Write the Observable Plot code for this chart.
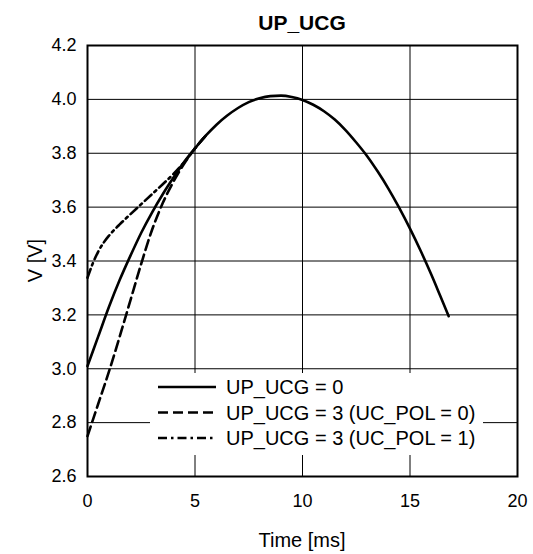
<!DOCTYPE html>
<html>
<head>
<meta charset="utf-8">
<script src="https://cdn.jsdelivr.net/npm/d3@7"></script>
<script src="https://cdn.jsdelivr.net/npm/@observablehq/plot@0.6"></script>
<style>
  html, body { margin: 0; padding: 0; background: #fff; }
  svg { display: block; }
</style>
</head>
<body>
<div id="chart"></div>
<script>
// ---- data ----
const title = "UP_UCG";
const xLabel = "Time [ms]";
const yLabel = "V [V]";
const xTicks = [0, 5, 10, 15, 20];
const yTicks = [2.6, 2.8, 3.0, 3.2, 3.4, 3.6, 3.8, 4.0, 4.2];
const seriesNames = ["UP_UCG = 0", "UP_UCG = 3 (UC_POL = 0)", "UP_UCG = 3 (UC_POL = 1)"];

// UP_UCG = 0 (solid)
const solidT = [0, 0.5, 1, 1.5, 2, 2.5, 3, 3.5, 4, 4.5, 5, 5.5, 6, 6.5, 7, 7.5, 8, 8.5, 9, 9.5, 10, 10.5, 11, 11.5, 12, 12.5, 13, 13.5, 14, 14.5, 15, 15.5, 16, 16.4, 16.8];
const solidV = [3.01, 3.12, 3.23, 3.33, 3.42, 3.505, 3.58, 3.648, 3.71, 3.768, 3.818, 3.865, 3.906, 3.94, 3.968, 3.99, 4.004, 4.012, 4.014, 4.009, 3.998, 3.98, 3.956, 3.925, 3.886, 3.84, 3.79, 3.732, 3.668, 3.597, 3.52, 3.437, 3.348, 3.272, 3.195];

// UP_UCG = 3 (UC_POL = 0) (dashed)
const dashT = [0, 0.5, 1, 1.5, 2, 2.5, 3, 3.5, 4, 4.5, 5, 5.5];
const dashV = [2.75, 2.87, 2.99, 3.12, 3.255, 3.39, 3.515, 3.615, 3.695, 3.762, 3.818, 3.865];

// UP_UCG = 3 (UC_POL = 1) (dash-dot)
const dotT = [0, 0.25, 0.5, 0.75, 1, 1.25, 1.5, 2, 2.5, 3, 3.5, 4, 4.5, 5, 5.5];
const dotV = [3.338, 3.392, 3.435, 3.468, 3.494, 3.516, 3.536, 3.574, 3.611, 3.648, 3.685, 3.723, 3.767, 3.818, 3.865];

const dashes = [null, "10,5", "9,4,2.5,4"];

const toRows = (ts, vs, s) => ts.map((t, i) => ({t, v: vs[i], s}));
const rows = [
  ...toRows(solidT, solidV, seriesNames[0]),
  ...toRows(dashT, dashV, seriesNames[1]),
  ...toRows(dotT, dotV, seriesNames[2])
];

const FONT = "'Liberation Sans', Arial, Helvetica, sans-serif";
const W = 533, H = 554;
const mL = 87, mR = 16, mT = 45, mB = 78;

const plot = Plot.plot({
  width: W,
  height: H,
  marginLeft: mL,
  marginRight: mR,
  marginTop: mT,
  marginBottom: mB,
  style: {fontFamily: FONT, fontSize: "18px", color: "#000", background: "#fff"},
  x: {domain: [0, 20], ticks: xTicks},
  y: {domain: [2.6, 4.2], ticks: yTicks},
  marks: [
    Plot.gridX(xTicks, {stroke: "#000", strokeOpacity: 1, strokeWidth: 1}),
    Plot.gridY(yTicks, {stroke: "#000", strokeOpacity: 1, strokeWidth: 1}),
    Plot.axisX(xTicks, {tickSize: 0, tickPadding: 18, fontSize: 18, label: null, tickFormat: d => String(d)}),
    Plot.axisY(yTicks, {tickSize: 0, tickPadding: 11, fontSize: 18, label: null, tickFormat: d => d.toFixed(1)}),
    ...seriesNames.map((name, i) =>
      Plot.line(rows.filter(r => r.s === name), {
        x: "t", y: "v", stroke: "#000", strokeWidth: 2.6,
        strokeDasharray: dashes[i], curve: "monotone-x"
      })
    ),
    Plot.frame({stroke: "#000", strokeWidth: 2})
  ]
});

document.getElementById("chart").appendChild(plot);

const svg = d3.select(plot);
const xs = plot.scale("x"), ys = plot.scale("y");
const cx = (xs.apply(0) + xs.apply(20)) / 2;

svg.append("text").attr("x", cx).attr("y", 30).attr("text-anchor", "middle")
  .attr("font-family", FONT).attr("font-size", 21).attr("font-weight", "bold")
  .attr("fill", "#000").text(title);

svg.append("text").attr("x", cx).attr("y", 547).attr("text-anchor", "middle")
  .attr("font-family", FONT).attr("font-size", 20).attr("fill", "#000").text(xLabel);

const cy = (ys.apply(2.6) + ys.apply(4.2)) / 2;
svg.append("text").attr("transform", `translate(42,${cy}) rotate(-90)`).attr("text-anchor", "middle")
  .attr("font-family", FONT).attr("font-size", 20).attr("fill", "#000").text(yLabel);

// legend
const lg = svg.append("g");
lg.append("rect").attr("x", 150).attr("y", 373).attr("width", 333).attr("height", 82).attr("fill", "#fff");
seriesNames.forEach((name, i) => {
  const y = 387 + i * 25.5;
  lg.append("line").attr("x1", 158).attr("x2", 216).attr("y1", y).attr("y2", y)
    .attr("stroke", "#000").attr("stroke-width", 2.6)
    .attr("stroke-dasharray", dashes[i]);
  lg.append("text").attr("x", 226).attr("y", y).attr("dy", "0.35em").attr("text-anchor", "start")
    .attr("font-family", FONT).attr("font-size", 20).attr("fill", "#000").text(name);
});
</script>
</body>
</html>
